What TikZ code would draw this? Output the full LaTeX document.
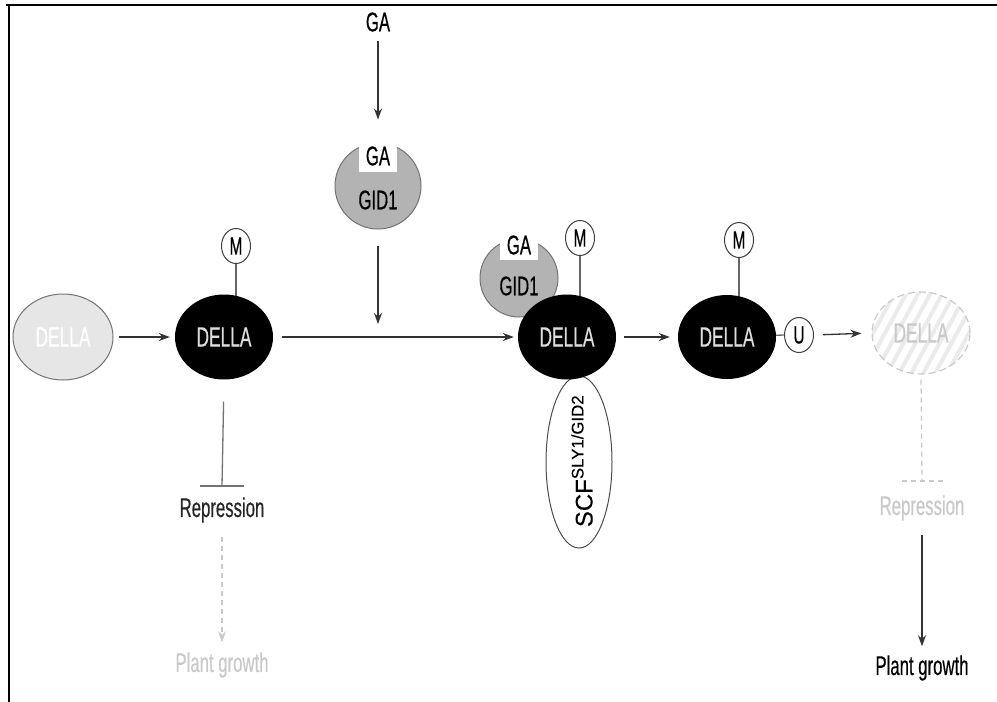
\documentclass[tikz,border=0pt]{standalone}
\usepackage{fontspec}
\setmainfont{Liberation Sans}[FakeStretch=0.62,FakeBold=0.4]
\newfontfamily\scffont{Liberation Sans}[FakeBold=0.3]
\usetikzlibrary{shapes.geometric,arrows.meta}
\pgfdeclarelayer{bg}
\pgfsetlayers{bg,main}
\definecolor{dellatxt}{HTML}{DDDDDD}
\definecolor{gidfill}{HTML}{B3B3B3}
\definecolor{lightfill}{HTML}{E6E6E6}
\definecolor{faint}{HTML}{C9C9C9}
\definecolor{stripe}{HTML}{EBEBEB}
\begin{document}
\begin{tikzpicture}[x=1pt,y=-1pt,
  txt/.style={font=\fontsize{27}{29}\selectfont, inner sep=0pt},
  della/.style={ellipse, fill=black, minimum width=98pt, minimum height=85pt, inner sep=0pt, text=dellatxt, font=\fontsize{28}{30}\selectfont},
  mod/.style={ellipse, draw=black!75, fill=white, line width=1pt, minimum width=29pt, minimum height=35pt, inner sep=0pt, font=\fontsize{25}{26}\selectfont},
  gid/.style={circle, fill=gidfill, draw=black!55, line width=1pt, inner sep=0pt},
  conn/.style={line width=1.3pt, draw=black!80},
  arr/.style={conn, -{Stealth[length=11pt,width=8pt]}},
  notch/.style={fill=white}
]
\useasboundingbox (0,0) rectangle (997,702);
% frame
\draw[line width=2.5pt] (6,5) -- (997,5);
\draw[line width=2.5pt] (9,4) -- (9,702);

% top GA and free GID1
\node[txt] (gatop) at (378,22) {GA};
\node[gid, minimum size=86pt] (gid1) at (378,186) {};
\fill[notch] (359,138) rectangle (397,172);
\node[txt] (ga1) at (378,156) {GA};
\node[txt] (gidt1) at (378,200) {GID1};
\coordinate (join) at (378,324);

% DELLA states
\node[ellipse, fill=lightfill, draw=black!55, line width=1pt, minimum width=100pt, minimum height=86pt, inner sep=0pt, text=white, font=\fontsize{28}{30}\selectfont] (d0) at (63,337) {DELLA};
\node[della] (d1) at (224,337) {DELLA};
\node[mod] (m1) at (236,246) {M};

% complex
\node[gid, minimum size=78pt] (gid2) at (519,278) {};
\fill[notch] (500,232) rectangle (538,260);
\node[txt] (ga2) at (519,245) {GA};
\node[txt] (gidt2) at (519,286) {GID1};
\node[ellipse, draw=black!70, fill=white, line width=1pt, minimum width=66pt, minimum height=172pt, inner sep=0pt] (scf) at (579,462) {};
\node[rotate=90, font=\scffont\fontsize{24}{26}\selectfont, inner sep=0pt] (scft) at (582,461) {SCF\textsuperscript{SLY1/GID2}};
\node[della] (d2) at (567,337) {DELLA};
\node[mod] (m2) at (580,238) {M};

\node[della, minimum height=84pt] (d3) at (727,337) {DELLA};
\node[mod] (m3) at (739,240) {M};
\node[mod] (u) at (799,335) {U};

% degraded DELLA with stripes
\begin{scope}
  \clip (921,333) ellipse [x radius=49pt, y radius=41pt];
  \foreach \k in {-7,...,7} {
    \draw[stripe, line width=4pt] (921+\k*12-26,381) -- (921+\k*12+26,285);
  }
\end{scope}
\node[ellipse, draw=faint, dash pattern=on 7pt off 4pt, line width=1.2pt, minimum width=98pt, minimum height=82pt, inner sep=0pt, text=faint, font=\fontsize{28}{30}\selectfont] (d4) at (921,333) {DELLA};

% outputs
\node[txt, text=black!85] (rep1) at (222,510) {Repression};
\node[txt, text=faint] (pg1) at (222,665) {Plant growth};
\node[txt, text=faint] (rep2) at (922,508) {Repression};
\node[txt, text=black] (pg2) at (922,668) {Plant growth};
\coordinate (bar1) at (222,486);
\coordinate (bar2) at (922,481);

\begin{pgfonlayer}{bg}
\draw[conn, draw=black!60] (m1.south) -- (m1.south |- d1.center);
\draw[conn, draw=black!60] (m2.south) -- (m2.south |- d2.center);
\draw[conn, draw=black!60] (m3.south) -- (m3.south |- d3.center);
\draw[conn, draw=black!60] (d3.center) -- (u.west);
\end{pgfonlayer}

% connectors
\draw[arr, shorten <=5pt, shorten >=5pt] (d0.east) -- (d1.west);
\draw[arr, shorten <=9pt, shorten >=4pt] (d1.east) -- (d2.west);
\draw[arr, shorten <=9pt, shorten >=23pt] (gatop.south) -- (gid1.north);
\draw[arr, shorten <=16pt] (gid1.south) -- (join);
\draw[arr, shorten <=8pt, shorten >=8pt] (d2.east) -- (d3.west);
\draw[arr, shorten <=9pt, shorten >=10pt] (u.east) -- (d4.west);

\draw[conn, draw=black!55, shorten <=22pt] (d1.south) -- (bar1);
\draw[conn, draw=black!55] ([xshift=-22pt]bar1) -- ([xshift=22pt]bar1);
\draw[conn, draw=faint, dash pattern=on 5pt off 4pt, -{Stealth[length=11pt,width=8pt]}, shorten <=14pt, shorten >=10pt] (rep1.south) -- (pg1.north);

\draw[conn, draw=faint, dash pattern=on 5pt off 4pt, shorten <=5pt] (d4.south) -- (bar2);
\draw[conn, draw=faint, dash pattern=on 5pt off 4pt] ([xshift=-20pt]bar2) -- ([xshift=24pt]bar2);
\draw[arr, shorten <=14pt, shorten >=9pt] (rep2.south) -- (pg2.north);
\end{tikzpicture}
\end{document}
